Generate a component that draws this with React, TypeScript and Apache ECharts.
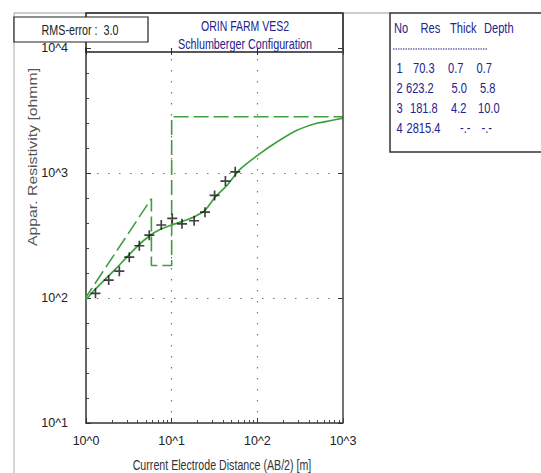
import React, { useEffect, useRef } from "react";
import * as echarts from "echarts";

// Observed apparent resistivity (crosses)
const obsAB2 = [1.29, 1.84, 2.45, 3.2, 4.19, 5.48, 7.56, 10.16, 13.2, 18.3, 24.5, 31.7, 42.4, 55.2];
const obsRho = [109, 139, 164, 212, 262, 318, 384, 433, 392, 415, 486, 662, 862, 1022];

// Computed model curve (solid green)
const curveAB2 = [1, 1.27, 1.76, 2.3, 3.01, 3.94, 5.58, 7.3, 10.08, 14.3, 18.7, 24.5, 32, 44.2, 62.7, 107, 169, 290, 496, 703, 1000];
const curveRho = [97, 117, 146, 175, 213, 258, 316, 353, 384, 417, 449, 502, 638, 796, 1070, 1430, 1772, 2199, 2502, 2620, 2745];

// Layer model
const layerNo = ["1", "2", "3", "4"];
const layerRes = [70.3, 623.2, 181.8, 2815.4];
const layerThick = ["0.7", "5.0", "4.2", "-.-"];
const layerDepth = [0.7, 5.8, 10.0];
const layerDepthText = ["0.7", "5.8", "10.0", "-.-"];
const resText = ["70.3", "623.2", "181.8", "2815.4"];

const xTicks = [1, 10, 100, 1000];
const yTicks = [10, 100, 1000, 10000];
const rmsError = "3.0";
const titleLines = ["ORIN FARM VES2", "Schlumberger Configuration"];
const tableHeader = ["No", "Res", "Thick", "Depth"];
const xTitle = "Current Electrode Distance (AB/2) [m]";
const yTitle = "Appar. Resistivity [ohmm]";

// layout (pixel positions of decorations only)
const headerX = [394, 420.5, 450, 484];
const noX = 396.5;
const resX = [413, 406, 410, 406.5];
const thickX = [448, 451.5, 451, 460];
const depthX = [476.5, 480, 478, 481.5];
const rowY = [68, 88, 107.5, 127.5];

const NARROW = "'Liberation Sans Narrow', 'Arial Narrow', 'Liberation Sans', Arial, sans-serif";
const SANS = "'Liberation Sans', Arial, sans-serif";
const GREEN = "#3f9f3f";
const NAVY = "#23238c";

function buildLayerLine(): number[][] {
  const pts: number[][] = [[layerDepth[0], layerRes[0]]];
  for (let k = 1; k < layerDepth.length; k++) {
    pts.push([layerDepth[k], layerRes[k]]);
    pts.push([layerDepth[k], layerRes[k + 1]]);
  }
  pts.push([xTicks[xTicks.length - 1], layerRes[layerRes.length - 1]]);
  return pts;
}

const logFmt = (v: number) => "10^" + Math.round(Math.log10(v));

function txt(text: string, x: number, y: number, opts: any = {}) {
  return {
    type: "text",
    x,
    y,
    scaleX: opts.scaleX ?? 0.82,
    scaleY: 1,
    rotation: opts.rotation ?? 0,
    style: {
      text,
      x: 0,
      y: 0,
      fill: opts.color ?? "#222",
      fontSize: opts.size ?? 12,
      fontFamily: SANS,
      textAlign: opts.align ?? "center",
      textVerticalAlign: "middle",
      verticalAlign: "middle",
    },
    z: 100,
  };
}

export default function App() {
  const ref = useRef<HTMLDivElement>(null);
  useEffect(() => {
    if (!ref.current) return;
    const chart = echarts.init(ref.current, undefined, { renderer: "svg" });

    const tOpt = { size: 15, color: NAVY, align: "left", scaleX: 0.74 };
    const tableTexts: any[] = [];
    tableHeader.forEach((h, i) => tableTexts.push(txt(h, headerX[i], 28, tOpt)));
    layerNo.forEach((n, i) => {
      tableTexts.push(txt(n, noX, rowY[i], tOpt));
      tableTexts.push(txt(resText[i], resX[i], rowY[i], tOpt));
      tableTexts.push(txt(layerThick[i], thickX[i], rowY[i], tOpt));
      tableTexts.push(txt(layerDepthText[i], depthX[i], rowY[i], tOpt));
    });

    const dotted = { type: [1.5, 9.5], color: "#777", width: 1.2 };

    chart.setOption({
      animation: false,
      backgroundColor: "#fff",
      grid: { left: 86, right: 198, top: 48, bottom: 50, show: false },
      xAxis: [
        {
          type: "log",
          logBase: 10,
          min: 1,
          max: 1000,
          position: "bottom",
          axisLine: { show: true, onZero: false, lineStyle: { color: "#333", width: 1.5 } },
          axisTick: { show: true, inside: true, length: 5, lineStyle: { color: "#333" } },
          minorTick: { show: true, splitNumber: 9, length: 3, lineStyle: { color: "#444" } },
          axisLabel: {
            formatter: logFmt,
            margin: 11,
            fontSize: 12.5,
            color: "#222",
            fontFamily: NARROW,
            showMinLabel: true,
            showMaxLabel: true,
          },
          splitLine: { show: true, showMinLine: false, showMaxLine: false, lineStyle: dotted },
        },
        {
          type: "log",
          logBase: 10,
          min: 1,
          max: 1000,
          position: "top",
          axisLine: { show: false },
          axisTick: { show: true, inside: true, length: 7, lineStyle: { color: "#333" } },
          axisLabel: { show: false },
          splitLine: { show: false },
        },
      ],
      yAxis: [
        {
          type: "log",
          logBase: 10,
          min: 10,
          max: 10000,
          position: "left",
          axisLine: { show: true, onZero: false, lineStyle: { color: "#333", width: 1.5 } },
          axisTick: { show: false },
          axisLabel: {
            formatter: logFmt,
            margin: 18,
            align: "right",
            fontSize: 12.5,
            color: "#222",
            fontFamily: NARROW,
            showMinLabel: true,
            showMaxLabel: true,
          },
          splitLine: { show: true, showMinLine: false, showMaxLine: false, lineStyle: dotted },
        },
        {
          type: "value",
          min: 1,
          max: 4,
          interval: 1,
          position: "left",
          axisLine: { show: false },
          axisTick: { show: true, inside: true, length: 5, lineStyle: { color: "#333" } },
          minorTick: { show: true, splitNumber: 5, length: 3, lineStyle: { color: "#444" } },
          axisLabel: { show: false },
          splitLine: { show: false },
        },
        {
          type: "value",
          min: 1,
          max: 4,
          interval: 1,
          position: "right",
          axisLine: { show: false },
          axisTick: { show: true, inside: true, length: 5, lineStyle: { color: "#333" } },
          axisLabel: { show: false },
          splitLine: { show: false },
        },
      ],
      series: [
        {
          type: "line",
          data: buildLayerLine(),
          symbol: "none",
          clip: true,
          lineStyle: { color: GREEN, width: 1.6, type: [15, 5] },
          z: 2,
        },
        {
          type: "line",
          data: curveAB2.map((x, i) => [x, curveRho[i]]),
          symbol: "none",
          smooth: 0.2,
          clip: true,
          lineStyle: { color: GREEN, width: 1.7 },
          z: 3,
        },
        {
          type: "scatter",
          data: obsAB2.map((x, i) => [x, obsRho[i]]),
          symbol: "path://M5,0h2v5h5v2h-5v5h-2v-5h-5v-2h5z",
          symbolSize: 10,
          itemStyle: { color: "#111" },
          z: 4,
        },
      ],
      graphic: [
        { type: "line", shape: { x1: 14, y1: 13, x2: 390, y2: 13 }, style: { stroke: "#999", lineWidth: 1 }, z: 90 },
        { type: "line", shape: { x1: 14, y1: 13, x2: 14, y2: 473 }, style: { stroke: "#aaa", lineWidth: 1 }, z: 90 },
        { type: "rect", shape: { x: 86, y: 13, width: 257, height: 39 }, style: { fill: "none", stroke: "#222", lineWidth: 1.5 }, z: 91 },
        { type: "line", shape: { x1: 343, y1: 13, x2: 343, y2: 423 }, style: { stroke: "#444", lineWidth: 1.5 }, z: 91 },
        { type: "rect", shape: { x: 14, y: 17, width: 134, height: 25 }, style: { fill: "#fff", stroke: "#222", lineWidth: 1.2 }, z: 92 },
        txt(`RMS-error :  ${rmsError}`, 80, 30, { size: 14.5, scaleX: 0.74 }),
        txt(titleLines[0], 245, 26, { size: 14, color: NAVY, scaleX: 0.75 }),
        txt(titleLines[1], 245, 44.5, { size: 14, color: NAVY, scaleX: 0.77 }),
        { type: "rect", shape: { x: 390, y: 13, width: 170, height: 139 }, style: { fill: "#fff", stroke: "#333", lineWidth: 1.5 }, z: 92 },
        { type: "line", shape: { x1: 393, y1: 49, x2: 487, y2: 49 }, style: { stroke: NAVY, lineWidth: 1, lineDash: [1.5, 1] }, z: 100 },
        ...tableTexts,
        txt(xTitle, 222, 465, { size: 15, color: "#333", scaleX: 0.71 }),
        txt(yTitle, 32, 157, { size: 13.5, color: "#555", rotation: Math.PI / 2, scaleX: 1.17 }),
      ],
    });
    return () => chart.dispose();
  }, []);
  return <div ref={ref} style={{ position: "fixed", left: 0, top: 0, width: 541, height: 473, background: "#fff" }} />;
}
